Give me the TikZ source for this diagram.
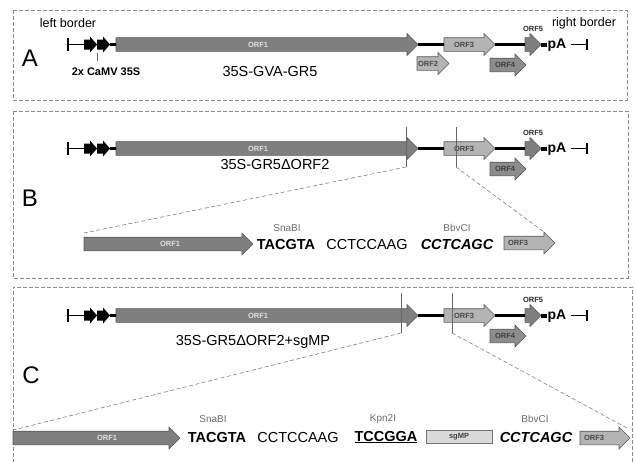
\documentclass[tikz,border=0pt]{standalone}
\usepackage{fontspec}
\setmainfont{Liberation Sans}
\usetikzlibrary{calc}

\definecolor{orfdark}{HTML}{7F7F7F}
\definecolor{orflight}{HTML}{B4B4B4}
\definecolor{orfmid}{HTML}{8C8C8C}
\definecolor{edgegray}{HTML}{5A5A5A}
\definecolor{boxgray}{HTML}{8A8A8A}
\definecolor{sitegray}{HTML}{6E6E6E}
\definecolor{sgfill}{HTML}{DADADA}

\tikzset{
 orf/.style={draw=edgegray, line width=0.6pt, line join=miter},
 darkorf/.style={fill=orfdark},
 darkorf lbl/.style={text=white!88!black},
 lightorf/.style={fill=orflight},
 lightorf lbl/.style={text=black!72},
 midorf/.style={fill=orfmid},
 midorf lbl/.style={text=black!75},
 orflbl/.style={font=\bfseries\fontsize{7.5}{8}\selectfont, inner sep=0pt},
 backbone/.style={line width=3.2pt, black},
 borderline/.style={line width=1.8pt, black},
 panel/.style={draw=boxgray, line width=0.6pt, dash pattern=on 4pt off 2pt},
 zoomline/.style={draw=gray, line width=0.6pt, dash pattern=on 4pt off 2.5pt},
 cutline/.style={draw=black!60, line width=0.6pt},
 panelletter/.style={font=\fontsize{24}{28}\selectfont, inner sep=0pt},
 borderlbl/.style={font=\fontsize{12.5}{14}\selectfont, inner sep=0pt},
 titlelbl/.style={font=\fontsize{14.5}{16}\selectfont, inner sep=0pt},
 seqtxt/.style={font=\fontsize{14.5}{16}\selectfont, inner sep=0pt},
 sitelbl/.style={font=\fontsize{10}{12}\selectfont, text=sitegray, inner sep=0pt},
 pa/.style={font=\bfseries\fontsize{14}{15}\selectfont, inner sep=0pt},
}

% #1 style, #2 name, #3 x start, #4 x tip, #5 y, #6 label x, #7 label
\newcommand\orfarrow[7]{%
 \coordinate (#2-s) at (#3,#5);
 \coordinate (#2-t) at (#4,#5);
 \draw[orf,#1] (#3,#5-6.8) -- (#4-11,#5-6.8) -- (#4-11,#5-11) -- (#2-t)
   -- (#4-11,#5+11) -- (#4-11,#5+6.8) -- (#3,#5+6.8) -- cycle;
 \node[orflbl,#1 lbl] (#2) at (#6,#5) {#7};
}

% #1 name, #2 x, #3 y
\newcommand\promoter[3]{%
 \coordinate (#1-s) at (#2,#3);
 \coordinate (#1-t) at (#2+13,#3);
 \fill[black] (#2,#3-5) -- (#2+6,#3-5) -- (#2+6,#3-8) -- (#1-t)
   -- (#2+6,#3+8) -- (#2+6,#3+5) -- (#2,#3+5) -- cycle;
}

% #1 prefix, #2 y
\newcommand\toprow[2]{%
 \orfarrow{darkorf}{#1-orf1}{116}{418}{#2}{258}{ORF1}
 \orfarrow{lightorf}{#1-orf3}{444}{495}{#2}{464}{ORF3}
 \orfarrow{darkorf}{#1-orf5}{525}{541}{#2}{530}{}
 \orfarrow{midorf}{#1-orf4}{490}{526}{#2+20.5}{505}{ORF4}
 \promoter{#1-p1}{84}{#2}
 \promoter{#1-p2}{97}{#2}
 \coordinate (#1-lb) at (68,#2);
 \draw[borderline] (68,#2-6.5) -- (68,#2+6.5);
 \draw[borderline] (#1-lb) -- (#1-p1-s);
 \draw[line width=3.5pt] (#1-p2-t) -- (#1-orf1-s);
 \draw[backbone] (#1-orf1-t) -- (#1-orf3-s);
 \draw[backbone] (#1-orf3-t) -- (#1-orf5-s);
 \node[pa] (#1-pA) at (557,#2+1) {pA};
 \draw[line width=4pt] (#1-orf5-t) -- (#1-orf5-t -| #1-pA.west);
 \coordinate (#1-rbs) at (571,#2);
 \coordinate (#1-rb) at (587,#2);
 \draw[borderline] (#1-rbs) -- (#1-rb);
 \draw[line width=2.5pt] (587,#2-5.5) -- (587,#2+5.5);
 \node[orflbl,text=black!85] (#1-orf5l) at (533,#2-16) {ORF5};
}

\begin{document}
\begin{tikzpicture}[x=1pt,y=-1pt]
\fill[white] (0,0) rectangle (634,461);
\useasboundingbox (0,0) rectangle (634,461);

% ---------- panel frames ----------
\draw[panel] (13,10) rectangle (627,100);
\draw[panel] (13,111) rectangle (628,278);
\draw[panel] (13,475) -- (13,287) -- (632,287) -- (632,475);

% ---------- panel A ----------
\node[panelletter] (lA) at (30,58) {A};
\node[borderlbl] (lbA) at (68,23) {left border};
\node[borderlbl] (rbA) at (584,23) {right border};
\toprow{A}{44.5}
\orfarrow{lightorf}{A-orf2}{417}{449}{63.5}{428}{ORF2}
\coordinate (A-tick) at (97,53);
\draw[cutline] (A-tick) -- ++(0,8);
\node[font=\bfseries\fontsize{11}{12}\selectfont, inner sep=0pt] (A-camv) at (106,72) {2x CaMV 35S};
\node[titlelbl] (A-title) at (270,72) {35S-GVA-GR5};

% ---------- panel B ----------
\node[panelletter] (lB) at (30,198) {B};
\toprow{B}{148.5}
\coordinate (B-cut1top) at (406,127);
\coordinate (B-cut1) at (406,167);
\coordinate (B-cut2top) at (456,127);
\coordinate (B-cut2) at (456,167);
\draw[cutline] (B-cut1top) -- (B-cut1);
\draw[cutline] (B-cut2top) -- (B-cut2);
\node[titlelbl] (B-title) at (275,165) {35S-GR5ΔORF2};
\orfarrow{darkorf}{B-borf1}{84}{253}{244}{170}{ORF1}
\node[seqtxt,font=\bfseries\fontsize{14.5}{16}\selectfont] (B-snab) at (286,245) {TACGTA};
\node[seqtxt] (B-link) at (367,245) {CCTCCAAG};
\node[seqtxt,font=\bfseries\itshape\fontsize{14.5}{16}\selectfont] (B-bbv) at (457,245) {CCTCAGC};
\orfarrow{lightorf}{B-borf3}{504}{555}{243}{518}{ORF3}
\node[sitelbl] (B-snabl) at (287,228) {SnaBI};
\node[sitelbl] (B-bbvl) at (457,228) {BbvCI};
\draw[zoomline] (B-cut1) -- ($(B-borf1-s)+(0,-11)$);
\draw[zoomline] (B-cut2) -- ($(B-borf3-t)+(-11,-11)$);

% ---------- panel C ----------
\node[panelletter] (lC) at (31,375) {C};
\toprow{C}{315.5}
\coordinate (C-cut1top) at (401,293);
\coordinate (C-cut1) at (401,333);
\coordinate (C-cut2top) at (452,293);
\coordinate (C-cut2) at (452,333);
\draw[cutline] (C-cut1top) -- (C-cut1);
\draw[cutline] (C-cut2top) -- (C-cut2);
\node[titlelbl] (C-title) at (253,342) {35S-GR5ΔORF2+sgMP};
\orfarrow{darkorf}{C-borf1}{13}{180}{438}{107}{ORF1}
\node[seqtxt,font=\bfseries\fontsize{14.5}{16}\selectfont] (C-snab) at (217,437) {TACGTA};
\node[seqtxt] (C-link) at (298,437) {CCTCCAAG};
\node[seqtxt,font=\bfseries\fontsize{14.5}{16}\selectfont] (C-kpn) at (386,437) {\underline{TCCGGA}};
\node[draw=black!55, line width=0.6pt, fill=sgfill, minimum width=66pt, minimum height=13pt, inner sep=0pt,
      font=\bfseries\fontsize{7.5}{8}\selectfont, text=black!75] (C-sgmp) at (459,437) {sgMP};
\node[seqtxt,font=\bfseries\itshape\fontsize{14.5}{16}\selectfont] (C-bbv) at (536,437) {CCTCAGC};
\orfarrow{lightorf}{C-borf3}{580}{630}{438}{594}{ORF3}
\node[sitelbl] (C-snabl) at (213,419) {SnaBI};
\node[sitelbl] (C-kpnl) at (383,419) {Kpn2I};
\node[sitelbl] (C-bbvl) at (535,419) {BbvCI};
\draw[zoomline] (C-cut1) -- ($(C-borf1-s)+(0,-8)$);
\draw[zoomline] (C-cut2) -- ($(C-borf3-t)+(-3,-10)$);
\end{tikzpicture}
\end{document}
